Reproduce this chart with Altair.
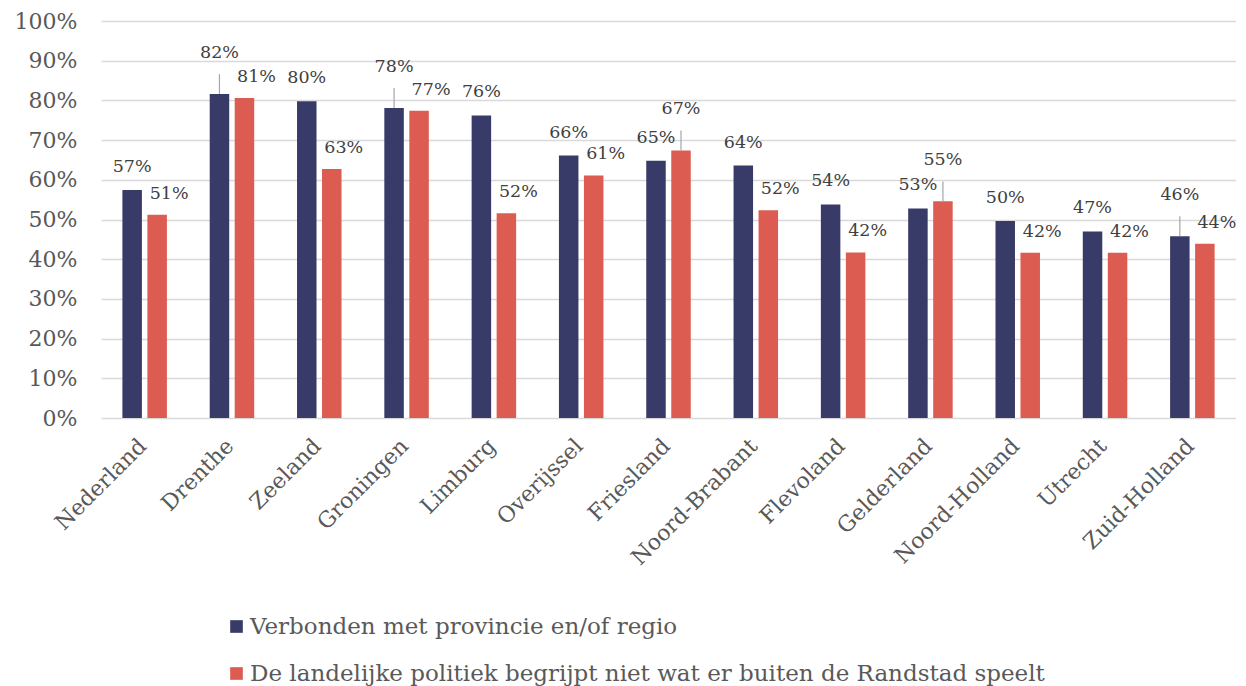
import altair as alt
import pandas as pd

regions = ["Nederland", "Drenthe", "Zeeland", "Groningen", "Limburg", "Overijssel",
           "Friesland", "Noord-Brabant", "Flevoland", "Gelderland", "Noord-Holland",
           "Utrecht", "Zuid-Holland"]
series_names = ["Verbonden met provincie en/of regio",
                "De landelijke politiek begrijpt niet wat er buiten de Randstad speelt"]
verbonden = [0.574, 0.816, 0.798, 0.781, 0.762, 0.661, 0.648, 0.636, 0.538, 0.528, 0.496, 0.470, 0.458]
landelijk = [0.512, 0.806, 0.627, 0.774, 0.516, 0.611, 0.674, 0.523, 0.417, 0.546, 0.416, 0.416, 0.439]
colors = ["#383B67", "#DC5C51"]
y_ticks = [0, 0.1, 0.2, 0.3, 0.4, 0.5, 0.6, 0.7, 0.8, 0.9, 1.0]

rows = []
for r, a, b in zip(regions, verbonden, landelijk):
    close = abs(a - b) < 0.03  # labels that would collide get moved up with a leader line
    rows.append({"region": r, "series": series_names[0], "value": a,
                 "raised": bool(close and a >= b)})
    rows.append({"region": r, "series": series_names[1], "value": b,
                 "raised": bool(close and b > a)})
df = pd.DataFrame(rows)
df["lead_top"] = df["value"] + 0.05

FONT = "DejaVu Serif"

x = alt.X("region:N", sort=regions, title=None,
          scale=alt.Scale(paddingInner=0, paddingOuter=0),
          axis=alt.Axis(labelAngle=-45, labelFontSize=22, labelColor="#595959",
                        labelFont=FONT, domain=False, ticks=False, labelPadding=17,
                        labelOffset=-9, grid=False))
xoff = alt.XOffset("series:N", sort=series_names,
                   scale=alt.Scale(paddingInner=0.22, paddingOuter=0.856))
y = alt.Y("value:Q", title=None, scale=alt.Scale(domain=[0, 1]),
          axis=alt.Axis(format=".0%", values=y_ticks, labelFontSize=22,
                        labelColor="#595959", labelFont=FONT, domain=False,
                        ticks=False, labelPadding=24, gridColor="#D9D9D9",
                        gridWidth=1.4))

base = alt.Chart(df)

bars = base.mark_bar().encode(
    x=x, xOffset=xoff, y=y,
    color=alt.Color("series:N", sort=series_names,
                    scale=alt.Scale(domain=series_names, range=colors),
                    legend=alt.Legend(orient="none", legendX=124, legendY=594,
                                      title=None, symbolType="square",
                                      symbolSize=160, symbolStrokeWidth=0,
                                      labelFontSize=23, labelFont=FONT,
                                      labelColor="#595959", labelLimit=0,
                                      rowPadding=23, labelOffset=2,
                                      direction="vertical")),
)

txt = alt.Text("value:Q", format=".0%")
s0 = alt.datum.series == series_names[0]
s1 = alt.datum.series == series_names[1]

lab1 = base.transform_filter(s0 & ~alt.datum.raised).mark_text(
    dy=-23, fontSize=17.5, font=FONT, color="#404040"
).encode(x=x, xOffset=xoff, y=y, text=txt)

lab2 = base.transform_filter(s1 & ~alt.datum.raised).mark_text(
    dy=-21, dx=12, fontSize=17.5, font=FONT, color="#404040"
).encode(x=x, xOffset=xoff, y=y, text=txt)

lab_up = base.transform_filter(alt.datum.raised).mark_text(
    dy=-41, fontSize=17.5, font=FONT, color="#404040"
).encode(x=x, xOffset=xoff, y=y, text=txt)

leaders = base.transform_filter(alt.datum.raised).mark_rule(
    color="#A6A6A6", strokeWidth=1.2
).encode(x=x, xOffset=xoff, y=y, y2="lead_top:Q")

chart = alt.layer(bars, leaders, lab1, lab2, lab_up).properties(
    width=1135, height=397,
    autosize=alt.AutoSizeParams(type="none"),
    padding={"left": 93, "top": 13, "right": 0, "bottom": 268},
).configure_view(stroke=None)

chart.save("out.html", embed_options={"renderer": "svg", "actions": False})
